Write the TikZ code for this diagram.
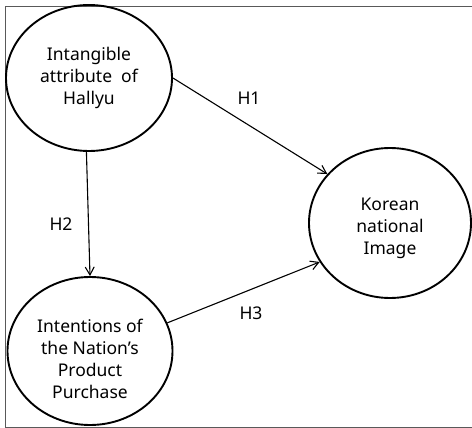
\documentclass[tikz,border=0pt]{standalone}
\usepackage{fontspec}
\setmainfont{Noto Sans}
\usetikzlibrary{arrows.meta,shapes.geometric}

\begin{document}
\begin{tikzpicture}[x=1pt, y=-1pt,
    construct/.style = {draw, ellipse, line width = 1.9pt, inner sep = 0pt, align = center,
                        font = \fontsize{17.5}{22}\selectfont},
    path/.style = {draw, line width = 1.1pt, -{Straight Barb[length=8pt, width=9pt, line width=1.1pt]}},
    hyp/.style = {font = \fontsize{17.5}{22}\selectfont}]
            \useasboundingbox (0,0) rectangle (472,428);
            % frame
            \path[draw, gray!70!black, line width = 0.8pt](480,6)to(5,6)to(5,427)to(480,427);

            % constructs
            \node[construct, minimum width = 166pt, minimum height = 146pt](hallyu)at(89,78)
                {Intangible\\attribute \ of\\Hallyu};
            \node[construct, minimum width = 165pt, minimum height = 148pt](purchase)at(90,351)
                {\\[8pt]Intentions of\\the Nation’s\\Product\\Purchase};
            \node[construct, minimum width = 162pt, minimum height = 150pt](image)at(390,223)
                {\\[2pt]Korean\\national\\Image};

            % hypotheses
            \path[path](hallyu.east)to(image.142);
            \path[path](hallyu.268)to(purchase.north);
            \path[path](purchase.20)to(image.209);
            \node[hyp](h1)at(249,98){H1};
            \node[hyp](h2)at(61,224){H2};
            \node[hyp](h3)at(251,313){H3};
        \end{tikzpicture}
\end{document}
